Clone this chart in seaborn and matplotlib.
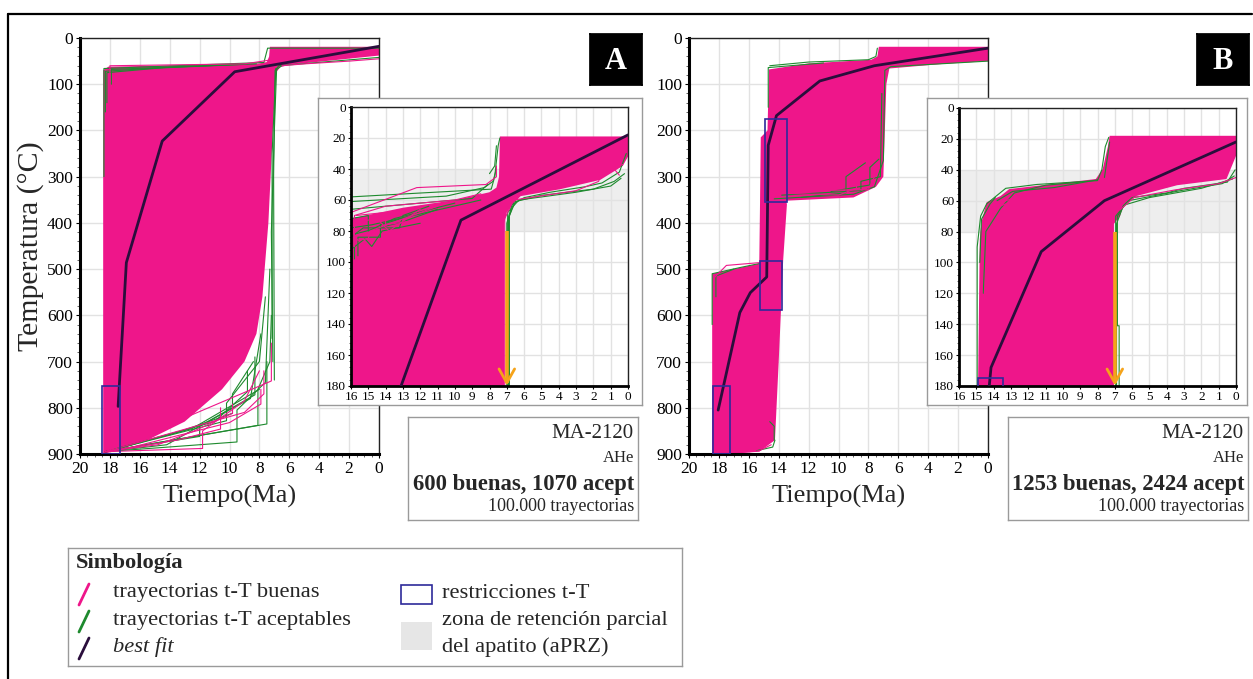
import numpy as np
import pandas as pd
import matplotlib
matplotlib.use("Agg")
import matplotlib.pyplot as plt
from matplotlib.patches import Rectangle
from matplotlib.lines import Line2D
import seaborn as sns

# ---------------- data ----------------
main_xticks = [20, 18, 16, 14, 12, 10, 8, 6, 4, 2, 0]
main_yticks = [0, 100, 200, 300, 400, 500, 600, 700, 800, 900]
inset_xticks = list(range(16, -1, -1))
inset_yticks = [0, 20, 40, 60, 80, 100, 120, 140, 160, 180]

# Panel A – envelope of good paths (pink band)
A_fill_t = [18.45, 18.45, 18.1, 12.0, 8.0, 7.5, 7.35, 7.3, 0.0, 0.0, 3.0, 6.0, 6.6, 6.9, 7.1, 7.4, 7.6, 7.8, 8.2, 9.0, 10.5, 13.0, 15.5, 17.5]
A_fill_T = [900, 70, 62, 58, 55, 52, 40, 19, 19, 38, 48, 58, 63, 75, 200, 400, 480, 560, 640, 700, 760, 830, 870, 892]
A_acc = [
    [(18.4, 300), (18.4, 66), (12, 58), (7.7, 53), (7.45, 22), (0, 22)],
    [(18.2, 140), (18.2, 75), (14, 63), (8.2, 56)],
    [(17.9, 100), (17.9, 68), (10, 58)],
    [(18.3, 160), (18.3, 72), (15.5, 66), (9.0, 57)],
    [(7.0, 740), (7.05, 300), (6.95, 70), (6.7, 60), (3, 50), (0, 42)],
    [(7.1, 700), (7.2, 420), (7.0, 200), (6.85, 68), (6.5, 60)],
    [(7.15, 650), (7.15, 250), (6.9, 66)],
    [(18.3, 895), (9.5, 874), (9.5, 805), (7.6, 745), (7.3, 500)],
    [(18.3, 895), (8.1, 838), (8.1, 760), (7.3, 700), (7.2, 600)],
    [(18.3, 895), (10.2, 828), (10.2, 790), (8.0, 700), (7.6, 560)],
    [(18.3, 895), (12.0, 862), (12.0, 840), (8.6, 780), (7.9, 640)],
    [(18.3, 895), (14.2, 880), (8.3, 772), (8.3, 690)],
    [(18.3, 895), (11.0, 830), (8.8, 765), (8.8, 720)],
    [(18.3, 895), (13.2, 850), (9.8, 812), (9.8, 770), (8.4, 700)],
    [(18.3, 895), (7.5, 835), (7.5, 700)],
    [(18.3, 895), (12.5, 845), (8.0, 760)],
]
A_good = [
    [(18.3, 895), (11.8, 888), (11.8, 850), (9.0, 785), (8.0, 720)],
    [(18.3, 895), (14.8, 880), (12.5, 852), (9.8, 812), (9.8, 792)],
    [(18.3, 895), (7.2, 742), (7.2, 660)],
    [(18.3, 895), (16.5, 885), (10.0, 832), (7.9, 792), (7.9, 760)],
    [(18.3, 895), (13.5, 870), (10.6, 846), (10.6, 800)],
    [(18.3, 895), (9.0, 810), (7.7, 770), (7.7, 720)],
    [(18.0, 95), (18.0, 60), (9.0, 56), (7.35, 48)],
    [(0, 45), (2, 50), (5, 56), (6.5, 60)],
]
A_best_t = [17.45, 16.9, 14.5, 9.65, 0.0]
A_best_T = [797, 486, 223, 73, 18]
A_boxes = [(18.5, 17.3, 752, 900)]

# Panel A inset
Ai_fill_t = [16.0, 16.0, 13.0, 10.0, 8.0, 7.6, 7.45, 7.4, 0.0, 0.0, 0.3, 1.6, 3.9, 6.2, 6.6, 7.0, 7.15, 7.15]
Ai_fill_T = [180, 72, 65, 60, 55, 52, 45, 19, 19, 32, 38, 47, 53, 57.5, 62, 68, 75, 180]
Ai_acc = [
    [(16, 58), (12, 55.5), (7.9, 53), (7.7, 45), (7.5, 25), (7.4, 20)],
    [(16, 61), (10.5, 57.5), (8.3, 52), (7.8, 48), (7.6, 40)],
    [(16, 66), (13, 63), (9, 59), (8.1, 50)],
    [(16, 78), (14.8, 76), (12, 69), (8.5, 60)],
    [(15.8, 98), (15.8, 82), (13, 74), (11, 66)],
    [(16, 92), (15.2, 85), (14.8, 90), (14.2, 80), (12, 75)],
    [(16, 72), (15, 70), (15, 80), (13.5, 72), (10, 62)],
    [(15.6, 96), (15.6, 84), (14.3, 84), (14.3, 76), (12.5, 70)],
    [(16, 84), (15.3, 78), (13.2, 78), (13.0, 70), (11.5, 64)],
    [(7.0, 180), (7.0, 75), (6.7, 63), (6.0, 58.5), (4.5, 55), (2.5, 51.5), (1.5, 49), (0.5, 42), (0.1, 30)],
    [(6.85, 180), (6.85, 70), (6.5, 61), (5.0, 57), (2.0, 53), (0.8, 48), (0.2, 43)],
    [(6.95, 180), (6.95, 68), (6.3, 60), (3.0, 55), (1.0, 51), (0.4, 46)],
    [(6.9, 180), (6.9, 72), (6.6, 62)],
    [(8.0, 43), (7.7, 38), (7.6, 25)],
]
Ai_good = [
    [(16, 68), (12.2, 52), (8.2, 50), (7.6, 45), (7.6, 38)],
    [(15.8, 90), (15.8, 70), (14, 64), (10, 60), (8.5, 56)],
    [(16, 75), (14.5, 72), (13.8, 80), (12, 66)],
    [(15.9, 82), (15.6, 86), (15.0, 85), (14.9, 80), (11.0, 64)],
    [(15.7, 70), (14.0, 68), (14.0, 76), (12.8, 74)],
    [(7.12, 180), (7.12, 72), (6.6, 60), (3.0, 54), (1.7, 48), (1.5, 42), (0.3, 37)],
    [(0.5, 44), (0.8, 40), (0.3, 30)],
]

# Panel B
B_fill_t = [18.45, 18.45, 17.0, 15.3, 15.25, 15.2, 14.75, 14.65, 12.0, 7.8, 7.4, 7.3, 0.0, 0.0, 3.0, 6.6, 6.8, 6.9, 7.0, 7.5, 9.0, 13.5, 13.45, 13.7, 14.0, 14.25, 15.3, 17.0]
B_fill_T = [900, 510, 500, 488, 360, 215, 200, 68, 55, 47, 40, 19, 19, 50, 56, 66, 100, 200, 300, 322, 345, 352, 360, 480, 700, 870, 895, 899]
B_acc = [
    [(14.3, 348), (9.0, 338), (7.6, 322), (7.0, 265), (6.9, 70), (6.5, 62), (0, 50)],
    [(13.8, 340), (8.5, 330), (8.5, 310), (7.2, 300), (7.1, 120)],
    [(12.5, 345), (9.5, 335), (9.5, 300), (8.2, 270)],
    [(10.5, 332), (7.9, 318), (7.9, 280), (7.3, 262)],
    [(18.45, 620), (18.45, 510), (16.5, 496), (15.3, 488)],
    [(18.2, 560), (18.2, 515), (17.0, 500)],
    [(14.3, 870), (14.3, 840), (14.6, 830)],
    [(15.5, 893), (14.4, 885), (14.25, 870)],
    [(14.6, 60), (12.0, 52), (8.0, 47), (7.5, 40), (7.4, 22)],
    [(14.7, 150), (14.7, 64), (11.0, 54)],
]
B_good = [
    [(14.5, 335), (10.0, 340), (8.8, 325), (8.8, 300)],
    [(18.35, 520), (17.5, 492), (15.3, 486)],
    [(17.0, 898), (15.3, 893), (14.5, 880)],
    [(11.5, 330), (8.0, 328), (7.6, 300)],
]
B_best_t = [18.05, 16.6, 15.9, 14.8, 14.7, 14.15, 11.25, 7.6, 0.0]
B_best_T = [805, 594, 551, 517, 232, 168, 93, 60, 22]
B_boxes = [(14.92, 13.45, 175, 355), (15.23, 13.76, 483, 589), (18.4, 17.25, 752, 900)]

# Panel B inset
Bi_fill_t = [14.9, 14.8, 14.7, 14.4, 13.6, 13.1, 8.1, 7.7, 7.4, 7.3, 0.0, 0.0, 0.55, 3.4, 5.75, 6.5, 6.7, 7.05, 7.05]
Bi_fill_T = [180, 85, 74, 61, 57, 52.5, 46, 39.5, 25, 18, 18, 31, 46, 50, 57, 63, 70, 75, 180]
Bi_acc = [
    [(14.95, 180), (14.95, 90), (14.75, 70), (14.4, 62), (13.3, 52), (11.5, 49.5), (8.0, 47), (7.75, 40), (7.55, 25), (7.35, 19)],
    [(14.6, 120), (14.45, 80), (13.6, 65), (12.8, 55), (11.0, 50), (9.0, 48)],
    [(13.8, 60), (12.9, 54), (10.5, 51.5), (8.0, 46.5)],
    [(14.8, 100), (14.7, 72), (14.2, 62), (13.9, 58)],
    [(6.75, 180), (6.75, 141), (6.85, 141), (6.85, 70), (6.4, 62), (6.0, 58), (4.0, 55), (3.0, 52), (0.5, 48), (0.05, 40)],
    [(6.9, 180), (6.9, 75), (6.5, 63), (5.0, 58), (2.0, 52), (0.2, 46)],
    [(6.95, 180), (6.95, 70), (6.2, 60), (3.2, 53.5), (0.8, 49), (0.1, 44)],
    [(7.6, 45), (7.4, 30), (7.3, 22)],
]
Bi_good = [
    [(14.7, 130), (14.6, 75), (13.8, 62), (12.5, 57), (10, 55)],
    [(6.7, 66), (5.9, 58), (3.5, 53), (1.0, 49), (0.0, 45)],
    [(13.5, 63), (12.0, 56), (9.0, 52)],
]

aprz_range = (40, 80)
arrow_t, arrow_T0, arrow_T1 = 7.0, 80, 178

info_A = ["MA-2120", "AHe", "600 buenas, 1070 acept", "100.000 trayectorias"]
info_B = ["MA-2120", "AHe", "1253 buenas, 2424 acept", "100.000 trayectorias"]

# ---------------- style ----------------
PINK = '#EE168A'
GREEN = '#1E8A2E'
BEST = '#2A0E3C'
BLUE = '#2E2A9A'
ORANGE = '#F5A31A'
PRZ = '#EEEEEE'
GRID = '#E2E2E2'

sns.set_theme(style="ticks")
plt.rcParams['font.family'] = ['Liberation Serif', 'DejaVu Serif']

W, H = 1253, 679
fig = plt.figure(figsize=(W / 100, H / 100), dpi=100)
fig.patch.set_facecolor('white')


def fax(x0, y0, x1, y1):
    return fig.add_axes([x0 / W, 1 - y1 / H, (x1 - x0) / W, (y1 - y0) / H])


def paths_df(acc, good):
    rows = []
    for kind, paths in (('acc', acc), ('good', good)):
        for i, p in enumerate(paths):
            for t, T in p:
                rows.append((f"{kind}{i}", kind, t, T))
    return pd.DataFrame(rows, columns=['id', 'kind', 't', 'T'])


def draw_panel(ax, fill_t, fill_T, acc, good, best_t, best_T, boxes, inset=False):
    if inset:
        ax.axhspan(*aprz_range, color=PRZ, lw=0, zorder=0.5)
    ax.fill(fill_t, fill_T, color=PINK, lw=0, zorder=1)
    df = paths_df(acc, good)
    sns.lineplot(data=df, x='t', y='T', units='id', hue='kind', estimator=None, sort=False,
                 palette={'acc': GREEN, 'good': PINK}, hue_order=['acc', 'good'],
                 lw=0.8, legend=False, ax=ax, zorder=2)
    sns.lineplot(x=best_t, y=best_T, sort=False, estimator=None, color=BEST, lw=2.0, ax=ax, zorder=4)
    for t0, t1, T0, T1 in boxes:
        ax.add_patch(Rectangle((t1, T0), t0 - t1, T1 - T0, fill=False, ec=BLUE, lw=1.2, zorder=5))
    if inset:
        ax.plot([arrow_t, arrow_t], [arrow_T0, arrow_T1], color=ORANGE, lw=2.6, zorder=6,
                solid_capstyle='butt')
        ax.plot([arrow_t + 0.45, arrow_t, arrow_t - 0.45], [arrow_T1 - 9, arrow_T1, arrow_T1 - 9],
                color=ORANGE, lw=2.0, zorder=6)


def style_axes(ax, xlim, ylim, xt, yt, gx, gy, labelsize, thick=2.2):
    ax.set_xlim(*xlim)
    ax.set_ylim(*ylim)
    ax.set_facecolor('white')
    ax.set_xticks(xt)
    ax.set_yticks(yt)
    for g in gx:
        ax.axvline(g, color=GRID, lw=1, zorder=0.6)
    for g in gy:
        ax.axhline(g, color=GRID, lw=1, zorder=0.6)
    for s in ['left', 'bottom']:
        ax.spines[s].set_linewidth(thick)
        ax.spines[s].set_color('black')
    for s in ['top', 'right']:
        ax.spines[s].set_linewidth(1.0)
        ax.spines[s].set_color('#222222')
    ax.tick_params(which='major', direction='out', length=3, width=0.8, labelsize=labelsize,
                   colors='black', pad=2, left=True, bottom=True)
    ax.set_xlabel('')
    ax.set_ylabel('')


def main_panel(x0, fill_t, fill_T, acc, good, best_t, best_T, boxes, ylabel):
    ax = fax(x0, 38, x0 + 299, 454)
    draw_panel(ax, fill_t, fill_T, acc, good, best_t, best_T, boxes)
    style_axes(ax, (20, 0), (900, 0), main_xticks, main_yticks,
               main_xticks, main_yticks, 12.5)
    ax.set_yticks(np.arange(0, 901, 20), minor=True)
    ax.set_xticks(np.arange(0, 20.01, 0.5), minor=True)
    ax.tick_params(which='minor', direction='out', length=2, width=0.5, left=True, bottom=True)
    ax.set_xlabel('Tiempo(Ma)', fontsize=19, labelpad=6)
    if ylabel:
        ax.set_ylabel('Temperatura (°C)', fontsize=21.5, labelpad=2)
    return ax


def inset_panel(fx0, fx1, ax0, ax1, ay0, fill_t, fill_T, acc, good, best_t, best_T, boxes):
    fr = fax(fx0, 98, fx1, 405)
    fr.set_xticks([]); fr.set_yticks([])
    fr.set_facecolor('white')
    for s in fr.spines.values():
        s.set_color('#9A9A9A'); s.set_linewidth(1.0)
    ax = fax(ax0, ay0, ax1, 386)
    draw_panel(ax, fill_t, fill_T, acc, good, best_t, best_T, boxes, inset=True)
    style_axes(ax, (16, 0), (180, 0), inset_xticks, inset_yticks,
               inset_xticks, inset_yticks, 9.5, thick=2.0)
    ax.set_yticks(np.arange(0, 181, 4), minor=True)
    ax.tick_params(which='minor', direction='out', length=1.5, width=0.5, left=True, bottom=False)
    ax.tick_params(which='major', length=2, pad=1.5)
    return ax


def info_box(x0, x1, lines):
    ax = fax(x0, 417, x1, 520)
    ax.set_xticks([]); ax.set_yticks([])
    for s in ax.spines.values():
        s.set_color('#9A9A9A'); s.set_linewidth(1.0)
    xr = 1 - 4 / (x1 - x0)
    ax.text(xr, 0.84, lines[0], ha='right', va='center', fontsize=15, transform=ax.transAxes)
    ax.text(xr, 0.60, lines[1], ha='right', va='center', fontsize=12, transform=ax.transAxes)
    ax.text(xr, 0.34, lines[2], ha='right', va='center', fontsize=16.3, fontweight='bold', transform=ax.transAxes)
    ax.text(xr, 0.135, lines[3], ha='right', va='center', fontsize=13, transform=ax.transAxes)


def letter_box(x0, letter):
    ax = fax(x0, 34, x0 + 52, 85)
    ax.set_xticks([]); ax.set_yticks([])
    ax.set_facecolor('black')
    for s in ax.spines.values():
        s.set_color('black')
    ax.text(0.5, 0.47, letter, ha='center', va='center', color='white', fontsize=22,
            fontweight='bold', transform=ax.transAxes)


# ---------------- panels ----------------
main_panel(80, A_fill_t, A_fill_T, A_acc, A_good, A_best_t, A_best_T, A_boxes, True)
inset_panel(318, 642, 351, 628, 107, Ai_fill_t, Ai_fill_T, Ai_acc, Ai_good, A_best_t, A_best_T, A_boxes)
info_box(408, 638, info_A)
letter_box(590, 'A')

main_panel(689, B_fill_t, B_fill_T, B_acc, B_good, B_best_t, B_best_T, B_boxes, False)
inset_panel(927, 1247, 959, 1236, 108, Bi_fill_t, Bi_fill_T, Bi_acc, Bi_good, B_best_t, B_best_T, B_boxes)
info_box(1008, 1248, info_B)
letter_box(1197, 'B')

# ---------------- legend ----------------
lg = fax(68, 548, 682, 666)
lg.set_xlim(68, 682); lg.set_ylim(666, 548)
lg.set_xticks([]); lg.set_yticks([])
for s in lg.spines.values():
    s.set_color('#9A9A9A'); s.set_linewidth(1.0)
LFS = 16.2
lg.text(76, 563, 'Simbología', fontsize=LFS, fontweight='bold', va='center')
for yy, col in ((594, PINK), (621, GREEN), (648, BEST)):
    lg.plot([79, 89], [yy + 11, yy - 10], color=col, lw=2)
lg.text(113, 593, 'trayectorias t-T buenas', fontsize=LFS, va='center')
lg.text(113, 620, 'trayectorias t-T aceptables', fontsize=LFS, va='center')
lg.text(113, 647, 'best fit', fontsize=LFS, va='center', style='italic')
lg.add_patch(Rectangle((401, 585), 31, 19, fill=False, ec=BLUE, lw=1.2))
lg.text(442, 593, 'restricciones t-T', fontsize=LFS, va='center')
lg.add_patch(Rectangle((401, 622), 31, 28, fc='#E6E6E6', ec='none'))
lg.text(442, 620, 'zona de retención parcial', fontsize=LFS, va='center')
lg.text(442, 647, 'del apatito (aPRZ)', fontsize=LFS, va='center')

# outer border
fig.add_artist(Line2D([8 / W, 8 / W], [0, 1 - 14 / H], color='black', lw=1.6))
fig.add_artist(Line2D([8 / W, 1252 / W], [1 - 14 / H, 1 - 14 / H], color='black', lw=1.6))

fig.savefig('out.png', dpi=100, facecolor='white')
